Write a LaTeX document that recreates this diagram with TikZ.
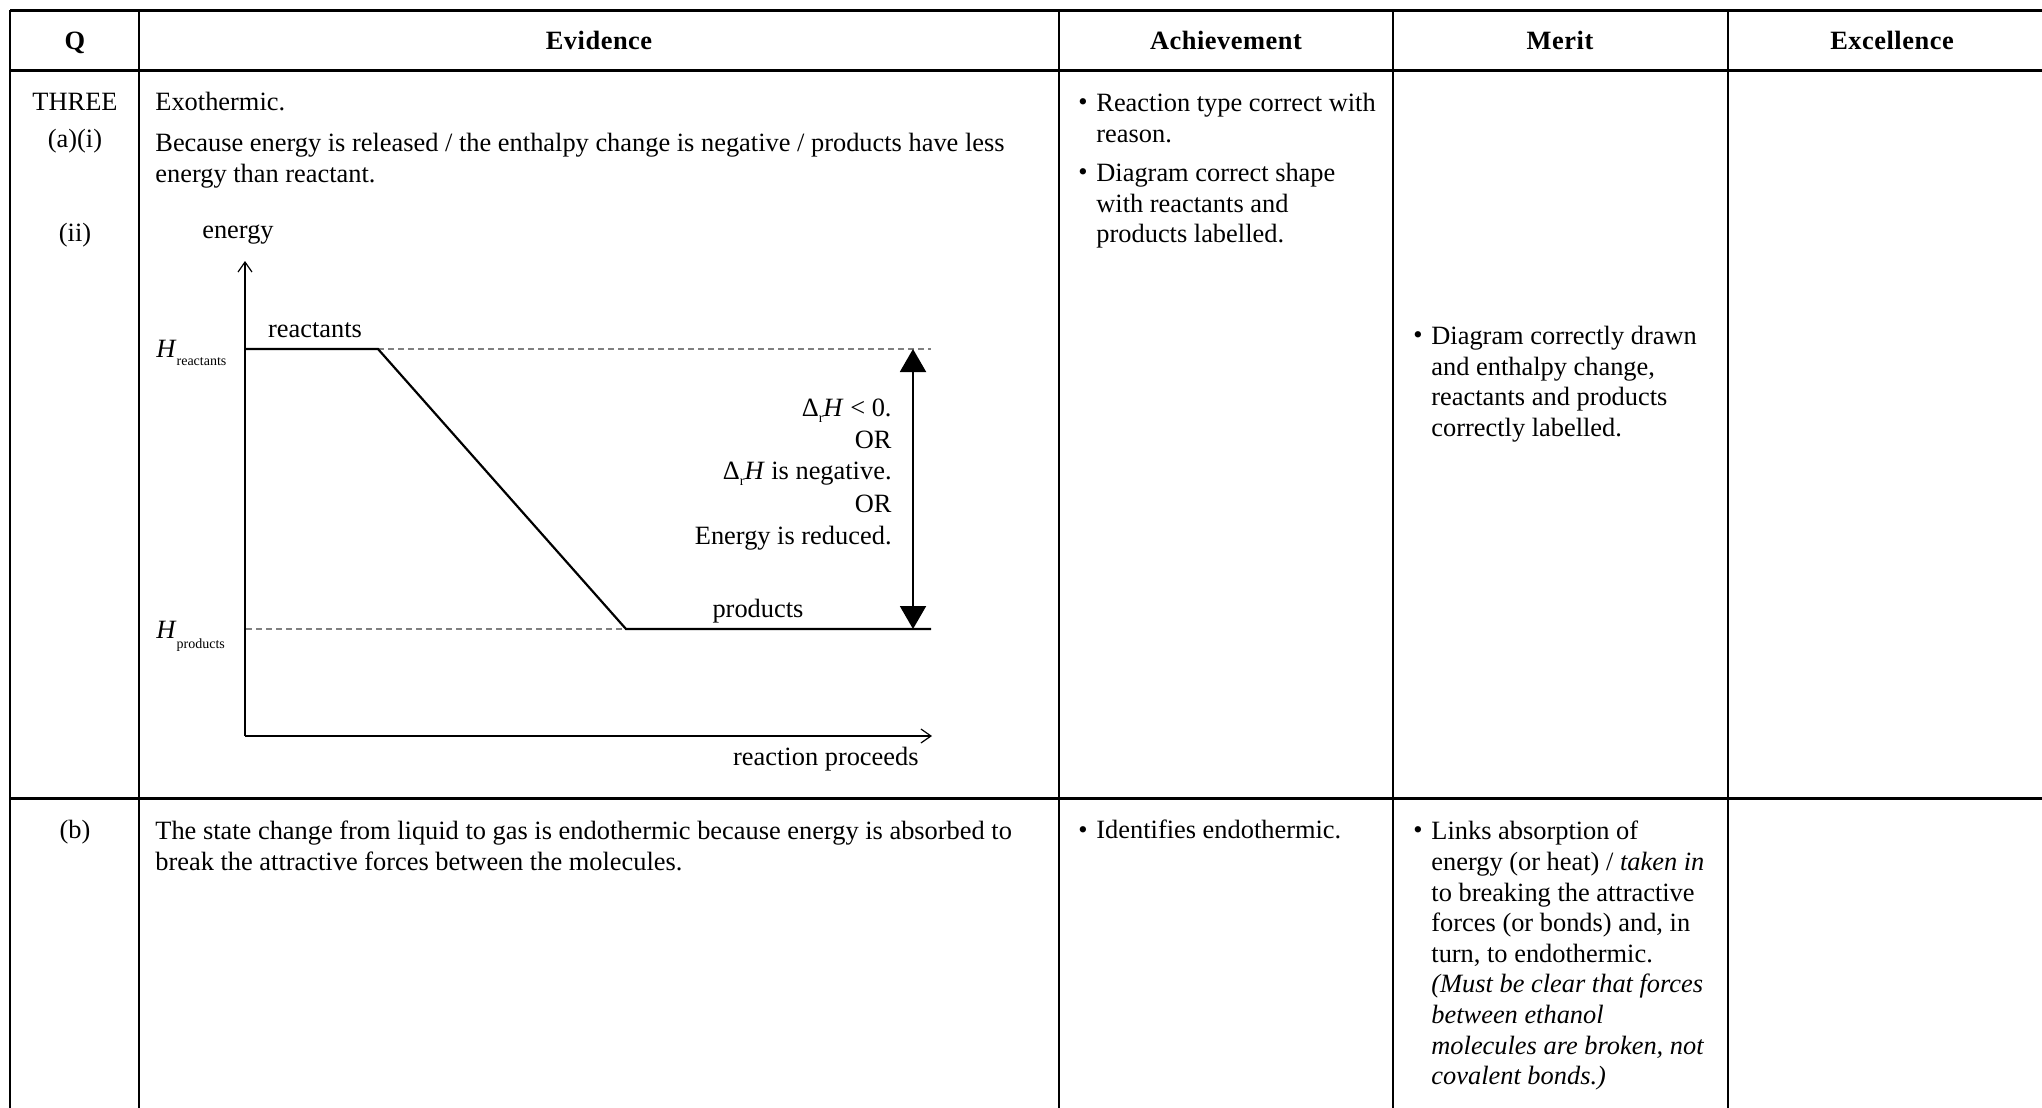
\documentclass[tikz,border=0pt]{standalone}
\usepackage{fontspec}
\setmainfont{Liberation Serif}
\newfontfamily\headfont[LetterSpace=2]{Liberation Serif}
\usetikzlibrary{arrows.meta}

\newcommand{\bodysize}{\fontsize{13.2}{15.3}\selectfont}
\newcommand{\subsize}{\fontsize{7}{8}\selectfont}

\tikzset{
  rule/.style={line width=1.5pt},
  colrule/.style={line width=0.9pt},
  head/.style={anchor=base, inner sep=0pt, font=\headfont\bfseries\bodysize},
  qlabel/.style={anchor=base, inner sep=0pt, font=\bodysize},
  cell/.style={anchor=north west, inner sep=0pt, align=left, font=\bodysize,
    execute at begin node=\strut},
  bullet/.style={anchor=base west, inner sep=0pt, font=\bodysize},
  axis/.style={line width=0.6pt, -{Straight Barb[length=5pt,width=7pt]}},
  level/.style={line width=1.1pt, line join=miter},
  guide/.style={gray, line width=0.7pt, dash pattern=on 3pt off 2pt},
  chartlabel/.style={anchor=base, inner sep=0pt, font=\bodysize},
  deltalabel/.style={anchor=base east, inner sep=0pt, font=\bodysize},
}

\begin{document}
\begin{tikzpicture}[x=0.5pt,y=-0.5pt]
\useasboundingbox (0,0) rectangle (2042,1108);

% Table rules
\draw[rule] (10,10) -- (2060,10);
\draw[rule] (10,70) -- (2060,70);
\draw[rule] (10,798) -- (2060,798);
\foreach \x in {10,139,1059,1393,1728} {
    \draw[colrule] (\x,10) -- (\x,1120);
}

% Header
\node[head] (hq) at (75,49) {Q};
\node[head] (hev) at (599,49) {Evidence};
\node[head] (hach) at (1226,49) {Achievement};
\node[head] (hmer) at (1560,49) {Merit};
\node[head] (hexc) at (1892,49) {Excellence};

% Question numbers
\node[qlabel] (q3) at (75,110) {THREE};
\node[qlabel] (qai) at (75,147) {(a)(i)};
\node[qlabel] (qii) at (75,241) {(ii)};
\node[qlabel] (qb) at (75,838) {(b)};

% Evidence
\node[cell] (exo) at (155,89) {Exothermic.};
\node[cell] (because) at (155,133) {Because energy is released / the enthalpy change is negative / products have less\\energy than reactant.};
\node[cell] (state) at (155,821) {The state change from liquid to gas is endothermic because energy is absorbed to\\break the attractive forces between the molecules.};

% Achievement
\node[bullet] (ba1) at (1078,110) {•};
\node[cell] (ach1) at (1096,93) {Reaction type correct with\\reason.};
\node[bullet] (ba2) at (1078,180) {•};
\node[cell] (ach2) at (1096,163) {Diagram correct shape\\with reactants and\\products labelled.};
\node[bullet] (ba3) at (1078,838) {•};
\node[cell] (ach3) at (1096,817) {Identifies endothermic.};

% Merit
\node[bullet] (bm1) at (1413,343) {•};
\node[cell] (mer1) at (1431,326) {Diagram correctly drawn\\and enthalpy change,\\reactants and products\\correctly labelled.};
\node[bullet] (bm2) at (1413,838) {•};
\node[cell] (mer2) at (1431,821) {Links absorption of\\energy (or heat) / \textit{taken in}\\to breaking the attractive\\forces (or bonds) and, in\\turn, to endothermic.\\\textit{(Must be clear that forces}\\\textit{between ethanol}\\\textit{molecules are broken, not}\\\textit{covalent bonds.)}};

% Energy diagram
\coordinate (origin) at (245,736);
\coordinate (ytop) at (245,261);
\coordinate (xend) at (932,736);
\coordinate (hr) at (245,349);
\coordinate (rend) at (378,349);
\coordinate (rguide) at (931,349);
\coordinate (pguide) at (246,629);
\coordinate (pstart) at (626,629);
\coordinate (pend) at (931,629);
\coordinate (dtop) at (913,349);
\coordinate (dbot) at (913,629);

\draw[axis] (origin) -- (ytop);
\draw[axis] (origin) -- (xend);
\draw[guide] (rend) -- (rguide);
\draw[guide] (pguide) -- (pstart);
\draw[level] (hr) -- (rend) -- (pstart) -- (pend);
\draw[line width=1pt, {Triangle[length=11.5pt,width=13pt]}-{Triangle[length=11.5pt,width=13pt]}] (dtop) -- (dbot);

% Diagram labels
\node[chartlabel] (energy) at (238,238) {energy};
\node[chartlabel] (react) at (315,337) {reactants};
\node[chartlabel] (prod) at (758,617) {products};
\node[deltalabel] (proceeds) at (919,765) {reaction proceeds};
\node[bullet] (hreact) at (156,357) {\textit{H}\raisebox{-4pt}{\subsize reactants}};
\node[bullet] (hprod) at (156,638) {\textit{H}\raisebox{-5pt}{\subsize products}};

\node[deltalabel] (dh1) at (892,416) {Δ\raisebox{-3pt}{\subsize r}\textit{H} < 0.};
\node[deltalabel] (or1) at (892,448) {OR};
\node[deltalabel] (dh2) at (892,479) {Δ\raisebox{-3pt}{\subsize r}\textit{H} is negative.};
\node[deltalabel] (or2) at (892,512) {OR};
\node[deltalabel] (dh3) at (892,544) {Energy is reduced.};
\end{tikzpicture}
\end{document}
